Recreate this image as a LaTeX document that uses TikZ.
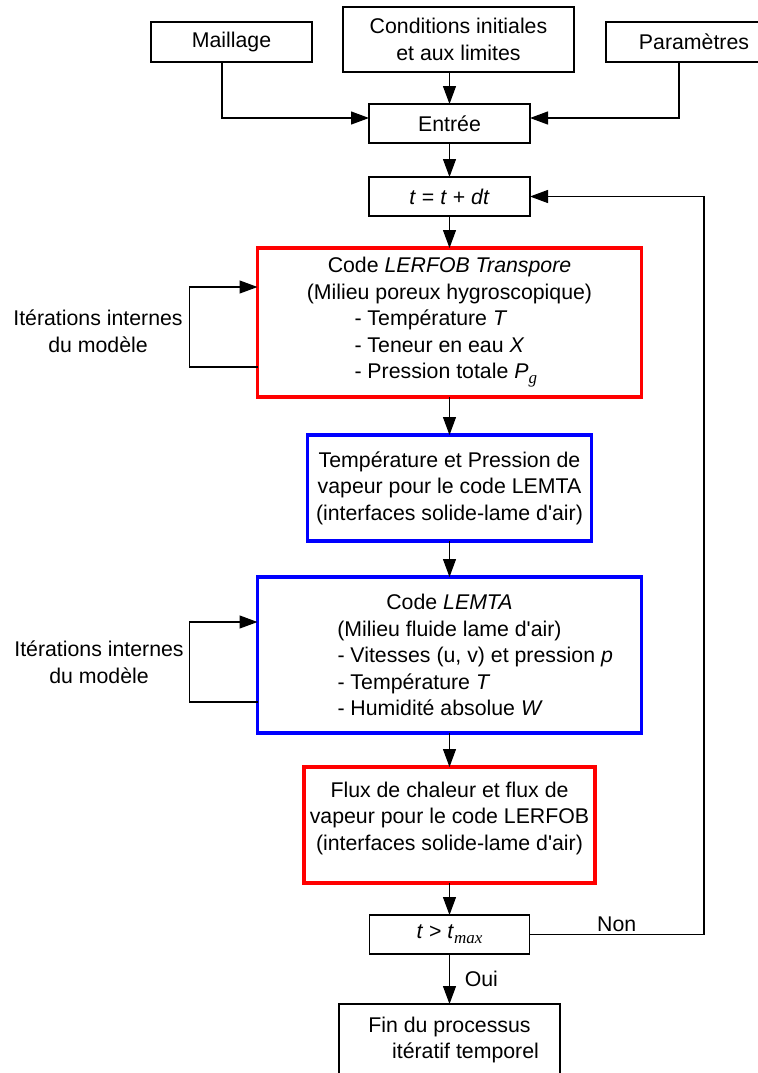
\documentclass[tikz,border=0pt]{standalone}
\usepackage{fontspec}
\setmainfont{Liberation Sans}
\newfontfamily\indicefont{Liberation Serif}
\usetikzlibrary{arrows.meta, positioning}
\definecolor{lerfobred}{HTML}{FF0000}
\definecolor{lemtablue}{HTML}{0000FF}
\newcommand{\indice}[1]{\raisebox{-0.45ex}{\indicefont\itshape\fontsize{8.5}{8.5}\selectfont #1}}

\begin{document}
\begin{tikzpicture}[x=0.5pt, y=-0.5pt,
      every node/.style={font=\fontsize{10.65}{13.25}\selectfont},
      box/.style={draw, line width=0.7pt, fill=white, align=center,
                  inner sep=0pt, outer sep=0pt},
      redbox/.style={box, draw=lerfobred, line width=1.6pt},
      bluebox/.style={box, draw=lemtablue, line width=1.6pt},
      a/.style={-{Triangle[length=9pt, width=6.5pt]}, line width=0.6pt}]
    \useasboundingbox (0,0) rectangle (757,1073);
    % donnees d'entree
    \node[box, minimum width=80.5pt, minimum height=20pt] (maillage) at (231.5,42) {Maillage};
    \node[box, minimum width=115.5pt, minimum height=32.5pt] (cond) at (458.5,39.5)
      {Conditions initiales\\et aux limites};
    \node[box, minimum width=88pt, minimum height=20pt] (param) at (694,42) {Paramètres};
    \node[box, minimum width=80.5pt, minimum height=19.5pt] (entree) at (449.5,123.5) {Entrée};
    % boucle temporelle
    \node[box, minimum width=80.5pt, minimum height=19.5pt, below=17pt of entree] (tplus)
      {\textit{t} = \textit{t} + \textit{dt}};
    \node[redbox, minimum width=192pt, minimum height=74.5pt, below=16pt of tplus] (lerfob)
      {Code \textit{LERFOB Transpore}\\(Milieu poreux hygroscopique)\\
       \makebox[95pt][l]{- Température \textit{T}}\\
       \makebox[95pt][l]{- Teneur en eau \textit{X}}\\
       \makebox[95pt][l]{- Pression totale \textit{P}\indice{g}}};
    \node[bluebox, minimum width=142pt, minimum height=53pt, below=19pt of lerfob] (vapeur)
      {Température et Pression de\\vapeur pour le code LEMTA\\(interfaces solide-lame d\textquotesingle air)};
    \node[bluebox, minimum width=192pt, minimum height=78pt, below=18pt of vapeur] (lemta)
      {Code \textit{LEMTA}\\(Milieu fluide lame d\textquotesingle air)\\
       \makebox[112pt][l]{- Vitesses (u, v) et pression \textit{p}}\\
       \makebox[112pt][l]{- Température \textit{T}}\\
       \makebox[112pt][l]{- Humidité absolue \textit{W}}};
    \node[redbox, minimum width=145.5pt, minimum height=58pt, below=17pt of lemta] (flux) {};
    \node[align=center] (fluxtxt) at ([yshift=3.5pt]flux.center)
      {Flux de chaleur et flux de\\vapeur pour le code LERFOB\\(interfaces solide-lame d\textquotesingle air)};
    \node[box, minimum width=80pt, minimum height=19.5pt, below=16pt of flux] (tmax)
      {\textit{t} > \textit{t}\indice{max}};
    \node[box, minimum width=110.5pt, minimum height=36pt, below=25pt of tmax] (fin)
      {Fin du processus\\\hspace*{16pt}itératif temporel};
    % iterations internes
    \node[align=center] (iter1) at (98,331.5) {Itérations internes\\du modèle};
    \node[align=center] (iter2) at (99,662.5) {Itérations internes\\du modèle};
    \coordinate (retour) at (704,0);
    % liaisons
    \draw[a] ([xshift=-4.75pt]maillage.south) |- ([yshift=2.75pt]entree.west);
    \draw[a] ([xshift=-7.5pt]param.south) |- ([yshift=2.75pt]entree.east);
    \draw[a] (cond.south -| entree.north) -- (entree.north);
    \draw[a] (entree) -- (tplus);
    \draw[a] (tplus) -- (lerfob);
    \draw[a] (lerfob) -- (vapeur);
    \draw[a] (vapeur) -- (lemta);
    \draw[a] (lemta) -- (flux);
    \draw[a] (flux) -- (tmax);
    \draw[a] (tmax) -- node[right=4pt]{Oui} (fin);
    \draw[a] (tmax.east) -- node[above, inner sep=1pt]{Non} (tmax.east -| retour) |- (tplus.east);
    \draw[a] ([yshift=-22.25pt]lerfob.west) -- ++(-68,0) |- ([yshift=17.75pt]lerfob.west);
    \draw[a] ([yshift=-23.5pt]lemta.west) -- ++(-68,0) |- ([yshift=16.5pt]lemta.west);
  \end{tikzpicture}
\end{document}
